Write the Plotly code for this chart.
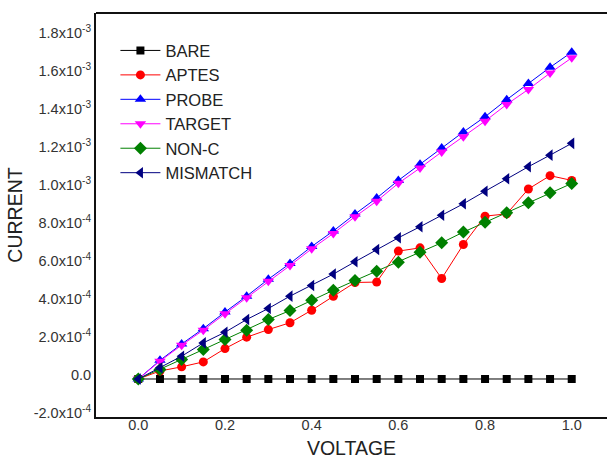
import plotly.graph_objects as go

voltage = [0.0, 0.05, 0.1, 0.15, 0.2, 0.25, 0.3, 0.35, 0.4, 0.45, 0.5,
           0.55, 0.6, 0.65, 0.7, 0.75, 0.8, 0.85, 0.9, 0.95, 1.0]

bare = [0.0] * 21
aptes = [0.0, 0.42e-4, 0.64e-4, 0.90e-4, 1.60e-4, 2.20e-4, 2.60e-4, 2.96e-4, 3.62e-4, 4.35e-4, 5.08e-4,
         5.10e-4, 6.73e-4, 6.90e-4, 5.29e-4, 7.08e-4, 8.57e-4, 8.69e-4, 10.0e-4, 10.7e-4, 10.45e-4]
probe = [0.0, 0.98e-4, 1.84e-4, 2.65e-4, 3.52e-4, 4.36e-4, 5.25e-4, 6.08e-4, 6.97e-4, 7.79e-4, 8.68e-4,
         9.52e-4, 10.45e-4, 11.30e-4, 12.15e-4, 13.0e-4, 13.8e-4, 14.7e-4, 15.55e-4, 16.4e-4, 17.2e-4]
target = [0.0, 0.94e-4, 1.78e-4, 2.57e-4, 3.43e-4, 4.27e-4, 5.15e-4, 5.97e-4, 6.85e-4, 7.66e-4, 8.54e-4,
          9.36e-4, 10.3e-4, 11.1e-4, 11.95e-4, 12.75e-4, 13.57e-4, 14.45e-4, 15.24e-4, 16.1e-4, 16.9e-4]
nonc = [0.0, 0.50e-4, 1.03e-4, 1.55e-4, 2.08e-4, 2.57e-4, 3.13e-4, 3.60e-4, 4.15e-4, 4.67e-4, 5.18e-4,
        5.67e-4, 6.15e-4, 6.67e-4, 7.17e-4, 7.73e-4, 8.25e-4, 8.75e-4, 9.27e-4, 9.80e-4, 10.29e-4]
mismatch = [0.0, 0.59e-4, 1.20e-4, 1.90e-4, 2.46e-4, 3.13e-4, 3.71e-4, 4.36e-4, 4.92e-4, 5.52e-4, 6.17e-4,
            6.82e-4, 7.43e-4, 8.01e-4, 8.62e-4, 9.22e-4, 9.88e-4, 10.54e-4, 11.17e-4, 11.78e-4, 12.40e-4]

series_names = ["BARE", "APTES", "PROBE", "TARGET", "NON-C", "MISMATCH"]
series_values = [bare, aptes, probe, target, nonc, mismatch]
series_colors = ["#000000", "#FF0000", "#0000FF", "#FF00FF", "#008000", "#000080"]
series_symbols = ["square", "circle", "triangle-up", "triangle-down", "diamond", "triangle-left"]
series_sizes = [8, 9, 10, 10, 10, 10]

ytick_vals = [-2e-4, 0.0, 2e-4, 4e-4, 6e-4, 8e-4, 1.0e-3, 1.2e-3, 1.4e-3, 1.6e-3, 1.8e-3]
ytick_text = ["-2.0x10<sup>-4</sup>", "0.0", "2.0x10<sup>-4</sup>", "4.0x10<sup>-4</sup>",
              "6.0x10<sup>-4</sup>", "8.0x10<sup>-4</sup>", "1.0x10<sup>-3</sup>",
              "1.2x10<sup>-3</sup>", "1.4x10<sup>-3</sup>", "1.6x10<sup>-3</sup>",
              "1.8x10<sup>-3</sup>"]
xtick_vals = [0.0, 0.2, 0.4, 0.6, 0.8, 1.0]
xtick_text = ["0.0", "0.2", "0.4", "0.6", "0.8", "1.0"]

fig = go.Figure()
for name, vals, col, sym, sz in zip(series_names, series_values, series_colors,
                                    series_symbols, series_sizes):
    fig.add_trace(go.Scatter(
        x=voltage, y=vals, name=name, mode="lines+markers",
        line=dict(color=col, width=1),
        marker=dict(symbol=sym, size=sz, color=col, line=dict(width=0)),
    ))

font_family = "Liberation Sans, Arial, sans-serif"
fig.update_layout(
    width=607, height=459,
    margin=dict(l=96, r=0, t=13, b=42),
    paper_bgcolor="white", plot_bgcolor="white",
    font=dict(family=font_family, color="#222222"),
    showlegend=True,
    legend=dict(x=0.038, y=0.95, xanchor="left", yanchor="top",
                bgcolor="rgba(0,0,0,0)", font=dict(size=16.5, color="#222222"),
                itemwidth=40, tracegroupgap=0),
    xaxis=dict(range=[-0.0976, 1.0814], showgrid=False, zeroline=False,
               showline=True, linecolor="#111111", linewidth=2, mirror=False,
               ticks="", tickvals=xtick_vals, ticktext=xtick_text, ticklabelstandoff=-6,
               tickfont=dict(size=14.5, color="#333333"),
               title=dict(text="VOLTAGE", font=dict(size=19.5, color="#222222"), standoff=10)),
    yaxis=dict(range=[-2.0e-4, 1.926e-3], showgrid=False, zeroline=False,
               showline=True, linecolor="#111111", linewidth=2, mirror=False,
               ticks="", tickvals=ytick_vals, ticktext=ytick_text, ticklabelshift=-4,
               tickfont=dict(size=14.5, color="#333333"),
               title=dict(text="CURRENT", font=dict(size=19.5, color="#222222"), standoff=6)),
    shapes=[dict(type="line", xref="paper", yref="paper", x0=0, x1=1, y0=1, y1=1,
                 line=dict(color="#111111", width=2))],
)

fig.write_html(
    "out.html",
    config={"displayModeBar": False},
    post_script="document.body.style.margin='0';document.body.style.overflow='hidden';",
)
